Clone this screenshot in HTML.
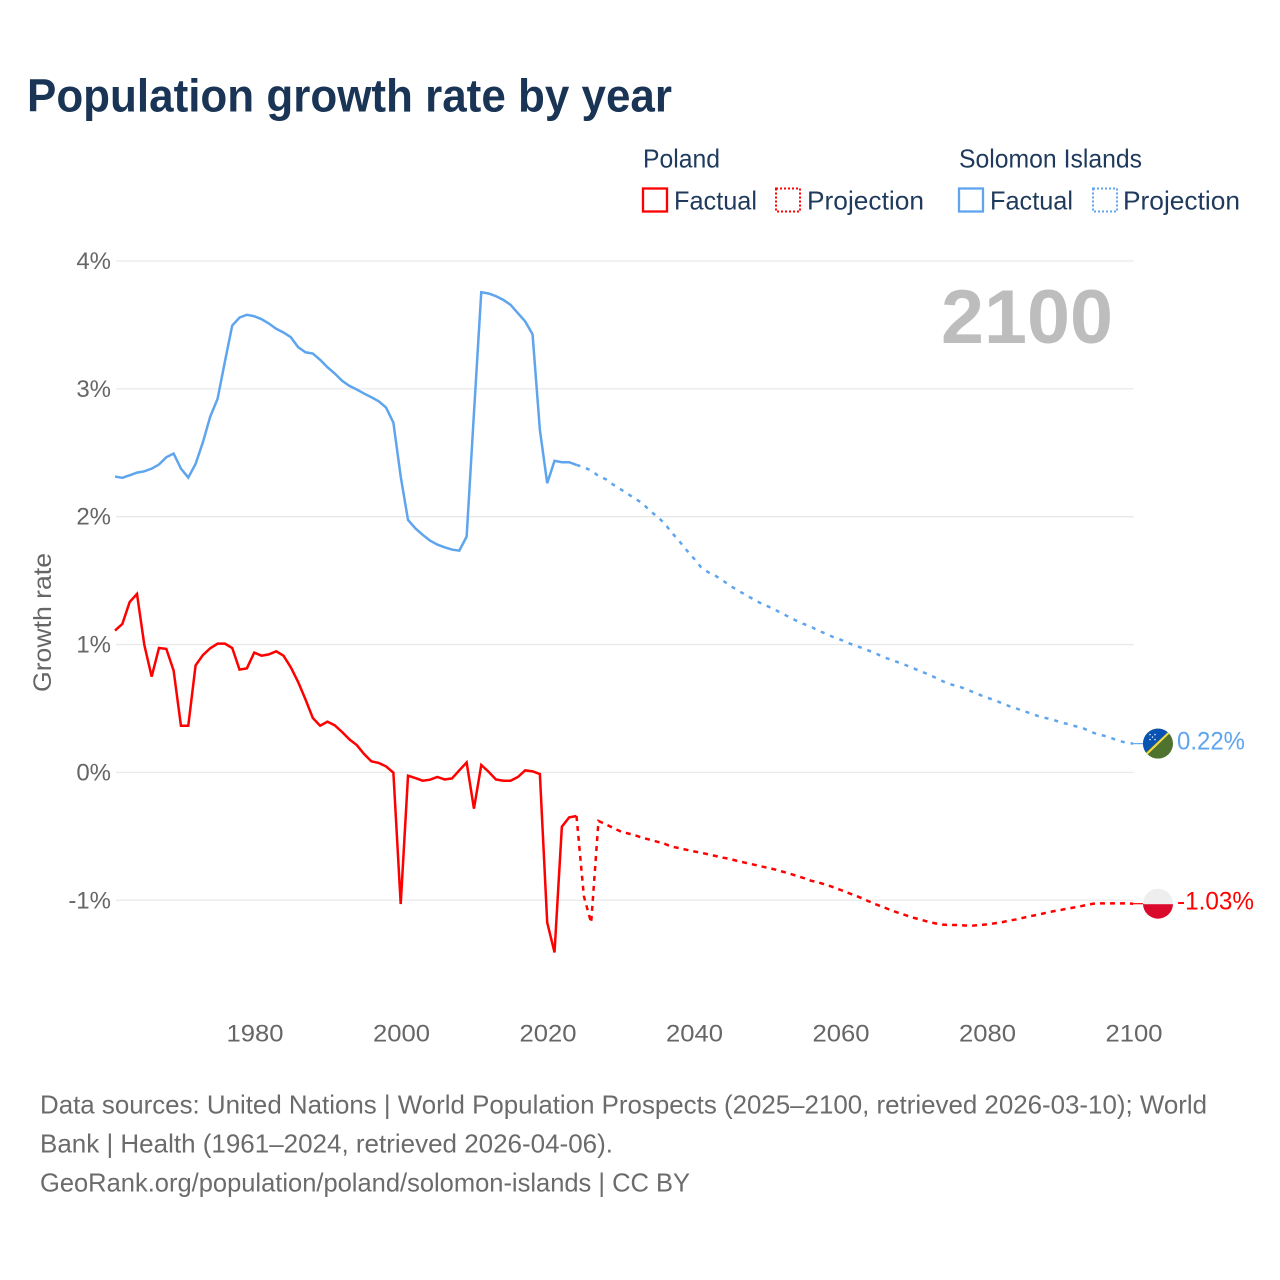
<!DOCTYPE html>
<html lang="en">
<head>
<meta charset="utf-8">
<title>Population growth rate by year</title>
<style>
html,body{margin:0;padding:0;background:#fff;}
svg{display:block;font-family:"Liberation Sans",sans-serif;}
</style>
</head>
<body>
<svg id="chart" xmlns="http://www.w3.org/2000/svg" width="1280" height="1280" viewBox="0 0 1280 1280">
  <rect x="0" y="0" width="1280" height="1280" fill="#ffffff"/>
  <text x="27" y="111.5" font-size="46" font-weight="700" fill="#1a3455" textLength="645" lengthAdjust="spacingAndGlyphs">Population growth rate by year</text>

  <g font-size="26" fill="#1f3a5c">
    <text x="643" y="167.5" textLength="77" lengthAdjust="spacingAndGlyphs">Poland</text>
    <g>
      <rect x="643" y="188.5" width="24" height="23" fill="none" stroke="#ff0000" stroke-width="2.3"/>
      <text x="674" y="209.5" textLength="83" lengthAdjust="spacingAndGlyphs">Factual</text>
    </g>
    <g>
      <rect x="776" y="188.5" width="24" height="23" fill="none" stroke="#ff0000" stroke-width="2" stroke-dasharray="2 2"/>
      <text x="807" y="209.5" textLength="117" lengthAdjust="spacingAndGlyphs">Projection</text>
    </g>
    <text x="959" y="167.5" textLength="183" lengthAdjust="spacingAndGlyphs">Solomon Islands</text>
    <g>
      <rect x="959" y="188.5" width="24" height="23" fill="none" stroke="#5ea5ee" stroke-width="2.3"/>
      <text x="990" y="209.5" textLength="83" lengthAdjust="spacingAndGlyphs">Factual</text>
    </g>
    <g>
      <rect x="1093" y="188.5" width="24" height="23" fill="none" stroke="#5ea5ee" stroke-width="2" stroke-dasharray="2 2"/>
      <text x="1123" y="209.5" textLength="117" lengthAdjust="spacingAndGlyphs">Projection</text>
    </g>
  </g>

  <g id="grid"></g>
  <g id="yticks"></g>
  <g id="xticks"></g>
  <text transform="translate(51,692) rotate(-90)" font-size="25" fill="#666666" textLength="139" lengthAdjust="spacingAndGlyphs">Growth rate</text>
  <text x="941" y="343" font-size="76" font-weight="700" fill="#bdbdbd" textLength="172" lengthAdjust="spacingAndGlyphs">2100</text>
  <g id="series"></g>

  <defs>
    <clipPath id="flag-clip-sb"><circle id="clip-sb" cx="1158" cy="744" r="15"/></clipPath>
    <clipPath id="flag-clip-pl"><circle id="clip-pl" cx="1158" cy="903" r="15"/></clipPath>
  </defs>
  <g id="flag-sb" clip-path="url(#flag-clip-sb)">
    <rect x="1143" y="728" width="30" height="31" fill="#4f722f"/>
    <polygon points="1143,728 1173,728 1143,755" fill="#0a53b3"/>
    <line x1="1146" y1="755" x2="1171" y2="731" stroke="#f5d94a" stroke-width="2"/>
    <g fill="#ffffff">
      <circle cx="1150" cy="735" r="0.7"/><circle cx="1155" cy="735" r="0.7"/>
      <circle cx="1152.5" cy="737.5" r="0.7"/><circle cx="1150" cy="740" r="0.7"/><circle cx="1155" cy="740" r="0.7"/>
    </g>
  </g>
  <g id="flag-pl" clip-path="url(#flag-clip-pl)">
    <rect x="1143" y="888" width="30" height="15.5" fill="#eeeeee"/>
    <rect x="1143" y="903.5" width="30" height="15.5" fill="#da0a2c"/>
  </g>
  <g id="endlabels"></g>

  <g font-size="26" fill="#6b6b6b">
    <text x="40" y="1113.5" textLength="1167" lengthAdjust="spacingAndGlyphs">Data sources: United Nations | World Population Prospects (2025–2100, retrieved 2026-03-10); World</text>
    <text x="40" y="1152.5" textLength="573" lengthAdjust="spacingAndGlyphs">Bank | Health (1961–2024, retrieved 2026-04-06).</text>
    <text x="40" y="1191.5" textLength="650" lengthAdjust="spacingAndGlyphs">GeoRank.org/population/poland/solomon-islands | CC BY</text>
  </g>
</svg>

<script>
const factualYears = [
1961,1962,1963,1964,1965,1966,1967,1968,1969,1970,
1971,1972,1973,1974,1975,1976,1977,1978,1979,1980,
1981,1982,1983,1984,1985,1986,1987,1988,1989,1990,
1991,1992,1993,1994,1995,1996,1997,1998,1999,2000,
2001,2002,2003,2004,2005,2006,2007,2008,2009,2010,
2011,2012,2013,2014,2015,2016,2017,2018,2019,2020,
2021,2022,2023,2024];
const projectionYears = [
2024,2025,2026,2027,2028,2029,2030,
2031,2032,2033,2034,2035,2036,2037,2038,2039,2040,
2041,2042,2043,2044,2045,2046,2047,2048,2049,2050,
2051,2052,2053,2054,2055,2056,2057,2058,2059,2060,
2061,2062,2063,2064,2065,2066,2067,2068,2069,2070,
2071,2072,2073,2074,2075,2076,2077,2078,2079,2080,
2081,2082,2083,2084,2085,2086,2087,2088,2089,2090,
2091,2092,2093,2094,2095,2096,2097,2098,2099,2100];

const solomonFactual = [
2.314,2.304,2.324,2.345,2.355,2.376,2.408,2.465,2.494,2.376,
2.306,2.413,2.583,2.783,2.922,3.213,3.495,3.558,3.579,3.568,
3.545,3.511,3.47,3.441,3.404,3.326,3.286,3.276,3.227,3.169,
3.12,3.063,3.023,2.995,2.963,2.934,2.903,2.854,2.736,2.314,
1.975,1.909,1.858,1.813,1.782,1.761,1.743,1.735,1.844,2.81,
3.756,3.746,3.725,3.696,3.657,3.592,3.527,3.427,2.679,2.262,
2.437,2.426,2.426,2.405];
const solomonProjection = [
2.405,2.387,2.361,2.319,2.293,2.251,2.215,
2.178,2.142,2.105,2.048,2.001,1.949,1.876,1.811,1.740,1.675,
1.605,1.565,1.537,1.500,1.459,1.425,1.391,1.359,1.328,1.302,
1.276,1.245,1.216,1.187,1.161,1.140,1.109,1.086,1.060,1.039,
1.015,0.992,0.973,0.950,0.926,0.900,0.880,0.859,0.838,0.814,
0.791,0.767,0.741,0.713,0.689,0.676,0.655,0.632,0.608,0.585,
0.567,0.543,0.520,0.501,0.480,0.462,0.441,0.426,0.413,0.394,
0.379,0.363,0.350,0.324,0.300,0.287,0.269,0.248,0.233,0.225];
const polandFactual = [
1.109,1.161,1.333,1.396,0.997,0.749,0.973,0.966,0.796,0.365,
0.365,0.837,0.918,0.971,1.007,1.007,0.973,0.804,0.814,0.937,
0.913,0.923,0.947,0.913,0.822,0.707,0.571,0.426,0.365,0.397,
0.368,0.316,0.258,0.214,0.144,0.086,0.074,0.047,-0.002,-1.03,
-0.026,-0.044,-0.065,-0.057,-0.036,-0.055,-0.047,0.016,0.078,-0.284,
0.058,0.005,-0.055,-0.065,-0.065,-0.036,0.016,0.008,-0.013,-1.174,
-1.408,-0.425,-0.352,-0.341];
const polandProjection = [
-0.341,-0.967,-1.176,-0.380,-0.406,-0.435,-0.461,
-0.477,-0.492,-0.511,-0.526,-0.542,-0.558,-0.581,-0.592,-0.605,-0.618,
-0.628,-0.641,-0.654,-0.667,-0.678,-0.693,-0.706,-0.719,-0.732,-0.745,
-0.758,-0.774,-0.790,-0.808,-0.826,-0.847,-0.860,-0.878,-0.897,-0.918,
-0.941,-0.962,-0.985,-1.011,-1.035,-1.056,-1.079,-1.100,-1.118,-1.137,
-1.152,-1.168,-1.181,-1.191,-1.194,-1.194,-1.197,-1.199,-1.194,-1.189,
-1.181,-1.173,-1.160,-1.150,-1.137,-1.124,-1.113,-1.100,-1.087,-1.077,
-1.066,-1.056,-1.045,-1.032,-1.024,-1.024,-1.024,-1.024,-1.024,-1.027];

const yTickValues = [4,3,2,1,0,-1];
const yTickLabels = ['4%','3%','2%','1%','0%','-1%'];
const xTickYears = [1980,2000,2020,2040,2060,2080,2100];
const xTickLabels = ['1980','2000','2020','2040','2060','2080','2100'];
const endLabels = ['0.22%','-1.03%'];
const endLabelWidths = [68,77];

const NS = 'http://www.w3.org/2000/svg';
function xScale(year){ return 254.2 + (year - 1980) * 7.325; }
function yScale(v){ return 772.4 - v * 127.85; }
function node(tag, parent){
  const el = document.createElementNS(NS, tag);
  parent.appendChild(el);
  return el;
}
function linePath(years, values){
  return values.map(function(v, i){
    return (i ? 'L' : 'M') + xScale(years[i]).toFixed(2) + ' ' + yScale(v).toFixed(2);
  }).join(' ');
}

const gridGroup = document.getElementById('grid');
const yTickGroup = document.getElementById('yticks');
yTickValues.forEach(function(v, i){
  const line = node('line', gridGroup);
  
  
  line.setAttribute('x1', xScale(1961) + 1);
  line.setAttribute('x2', xScale(2100) + 0.5);
  line.setAttribute('y1', yScale(v));
  line.setAttribute('y2', yScale(v));
  line.setAttribute('stroke', '#e9e9e9');
  line.setAttribute('stroke-width', '1.3');
  const label = node('text', yTickGroup);
  
  
  label.setAttribute('x', 111);
  label.setAttribute('y', yScale(v) + 8);
  label.setAttribute('text-anchor', 'end');
  label.setAttribute('font-size', '24');
  label.setAttribute('fill', '#666666');
  label.textContent = yTickLabels[i];
});

const xTickGroup = document.getElementById('xticks');
xTickYears.forEach(function(year, i){
  const label = node('text', xTickGroup);
  
  
  label.setAttribute('x', xScale(year) - 27.7);
  label.setAttribute('y', 1041.5);
  label.setAttribute('font-size', '24');
  label.setAttribute('fill', '#666666');
  label.setAttribute('textLength', '57');
  label.setAttribute('lengthAdjust', 'spacingAndGlyphs');
  label.textContent = xTickLabels[i];
});

const seriesGroup = document.getElementById('series');
function drawLine(name, years, values, color, dash){
  const p = node('path', seriesGroup);
  
  
  p.setAttribute('d', linePath(years, values));
  p.setAttribute('fill', 'none');
  p.setAttribute('stroke', color);
  p.setAttribute('stroke-width', '2.5');
  p.setAttribute('stroke-linejoin', 'miter');
  if (dash) p.setAttribute('stroke-dasharray', dash);
}
drawLine('line-solomon-factual', factualYears, solomonFactual, '#5ea5ee', null);
drawLine('line-solomon-projection', projectionYears, solomonProjection, '#5ea5ee', '4 6');
drawLine('line-poland-factual', factualYears, polandFactual, '#ff0000', null);
drawLine('line-poland-projection', projectionYears, polandProjection, '#ff0000', '5 5');

function drawEnd(name, flagId, clipId, lastValue, color, text, width){
  const y = yScale(lastValue);
  const c = node('line', seriesGroup);
  
  
  c.setAttribute('x1', xScale(2100));
  c.setAttribute('x2', 1144);
  c.setAttribute('y1', y);
  c.setAttribute('y2', y);
  c.setAttribute('stroke', color);
  c.setAttribute('stroke-width', '1.2');
  const clip = document.getElementById(clipId);
  const baseY = parseFloat(clip.getAttribute('cy'));
  clip.setAttribute('cy', y);
  const flag = document.getElementById(flagId);
  flag.setAttribute('transform', 'translate(0,0)');
  Array.prototype.forEach.call(flag.children, function(ch){
    ch.setAttribute('transform', 'translate(0,' + (y - baseY) + ')');
  });
  const t = node('text', document.getElementById('endlabels'));
  
  
  t.setAttribute('x', 1177);
  t.setAttribute('y', y + 6);
  t.setAttribute('font-size', '25');
  t.setAttribute('fill', color);
  t.setAttribute('textLength', width);
  t.setAttribute('lengthAdjust', 'spacingAndGlyphs');
  t.textContent = text;
}
drawEnd('solomon', 'flag-sb', 'clip-sb', solomonProjection[solomonProjection.length - 1], '#5ea5ee', endLabels[0], endLabelWidths[0]);
drawEnd('poland', 'flag-pl', 'clip-pl', polandProjection[polandProjection.length - 1], '#ff0000', endLabels[1], endLabelWidths[1]);
</script>
</body>
</html>
